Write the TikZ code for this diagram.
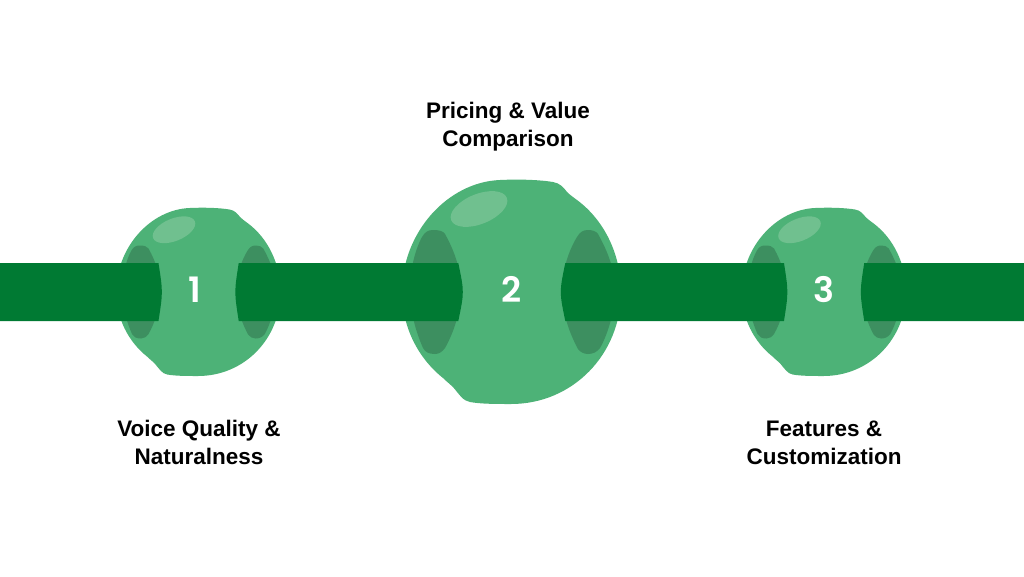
\documentclass[tikz,border=0pt]{standalone}
\usepackage{fontspec}
\setmainfont{Liberation Sans}
\newfontfamily\numfont{Poppins SemiBold}
\definecolor{ballc}{HTML}{4DB277}
\definecolor{holec}{HTML}{3D8F60}
\definecolor{shine}{HTML}{70C08F}
\definecolor{barc}{HTML}{007A33}
\tikzset{
  ballbody/.style={fill=ballc,draw=none},
  ballhole/.style={fill=holec,draw=none},
  ballshine/.style={fill=shine,draw=none},
  barseg/.style={fill=barc,draw=none},
  numlabel/.style={text=white,font=\numfont\fontsize{35}{35}\selectfont,inner sep=0pt},
  caption/.style={text=black,font=\bfseries\fontsize{22.5}{28}\selectfont,align=center,inner sep=0pt}
}
% #1 name, #2 centre x, #3 scale
\newcommand{\ballat}[3]{%
  \begin{scope}[shift={(#2,292)},x=#3pt,y=-#3pt]
    \fill[ballbody] (-109,0) .. controls (-109,-60) and (-63,-110) .. (-11,-112)
      .. controls (10,-113) and (30,-112) .. (42,-110)
      .. controls (49,-109) and (53,-104) .. (56,-100)
      .. controls (59,-97) and (62,-95) .. (66,-92)
      .. controls (93,-72) and (110,-38) .. (110,0)
      .. controls (110,62) and (62,112) .. (0,112)
      .. controls (-15,112) and (-30,112) .. (-41,110)
      .. controls (-48,109) and (-52,102) .. (-58,95)
      .. controls (-61,92) and (-64,90) .. (-68,86)
      .. controls (-93,66) and (-109,35) .. (-109,0) -- cycle;
    \fill[ballshine,rotate around={22:(-32,-83)}] (-32,-83) ellipse [x radius=30,y radius=15];
    % left opening
    \fill[ballhole] (-78,-62) .. controls (-72,-62) and (-68,-61) .. (-66,-58)
      .. controls (-56,-40) and (-50,-22) .. (-50,-2)
      .. controls (-50,20) and (-58,42) .. (-66,56)
      .. controls (-69,60) and (-72,62) .. (-76,62)
      .. controls (-82,62) and (-86,60) .. (-88,56)
      .. controls (-95,40) and (-101,20) .. (-101,-2)
      .. controls (-101,-22) and (-96,-42) .. (-89,-55)
      .. controls (-86,-60) and (-83,-62) .. (-78,-62) -- cycle;
    % right opening
    \fill[ballhole] (77,-62) .. controls (81,-62) and (85,-61) .. (87,-58)
      .. controls (97,-40) and (104,-22) .. (104,-2)
      .. controls (104,20) and (96,44) .. (89,56)
      .. controls (86,60) and (82,62) .. (77,62)
      .. controls (73,62) and (69,60) .. (67,57)
      .. controls (59,42) and (51,22) .. (51,-2)
      .. controls (51,-22) and (58,-42) .. (66,-55)
      .. controls (69,-60) and (72,-62) .. (77,-62) -- cycle;
  \end{scope}
  \coordinate (#1lt) at (#2-52.7*#3,263);
  \coordinate (#1lc) at (#2-46.7*#3,292);
  \coordinate (#1lb) at (#2-52.7*#3,321);
  \coordinate (#1rt) at (#2+54.3*#3,263);
  \coordinate (#1rc) at (#2+48.3*#3,292);
  \coordinate (#1rb) at (#2+54.3*#3,321);
}
\begin{document}
\begin{tikzpicture}[x=1pt,y=-1pt]
  \useasboundingbox (0,0) rectangle (1024,576);
  \fill[white] (0,0) rectangle (1024,576);
  \coordinate (edgeLt) at (0,263);
  \coordinate (edgeLb) at (0,321);
  \coordinate (edgeRt) at (1024,263);
  \coordinate (edgeRb) at (1024,321);
  \ballat{a}{198}{0.75}
  \ballat{b}{511}{1}
  \ballat{c}{823.5}{0.75}
  \fill[barseg] (edgeLt) -- (alt) .. controls (alc) .. (alb) -- (edgeLb) -- cycle;
  \fill[barseg] (art) .. controls (arc) .. (arb) -- (blb) .. controls (blc) .. (blt) -- cycle;
  \fill[barseg] (brt) .. controls (brc) .. (brb) -- (clb) .. controls (clc) .. (clt) -- cycle;
  \fill[barseg] (crt) .. controls (crc) .. (crb) -- (edgeRb) -- (edgeRt) -- cycle;
  \node[numlabel] (n1) at (194.5,289.5) {1};
  \node[numlabel] (n2) at (512,289.5) {2};
  \node[numlabel] (n3) at (823.5,289.5) {3};
  \node[caption] (t1) at (199,442.2) {Voice Quality \&\\Naturalness};
  \node[caption] (t2) at (508,126.6) {Pricing \& Value\\Comparison};
  \node[caption] (t3) at (824,443) {Features \&\\Customization};
\end{tikzpicture}
\end{document}
